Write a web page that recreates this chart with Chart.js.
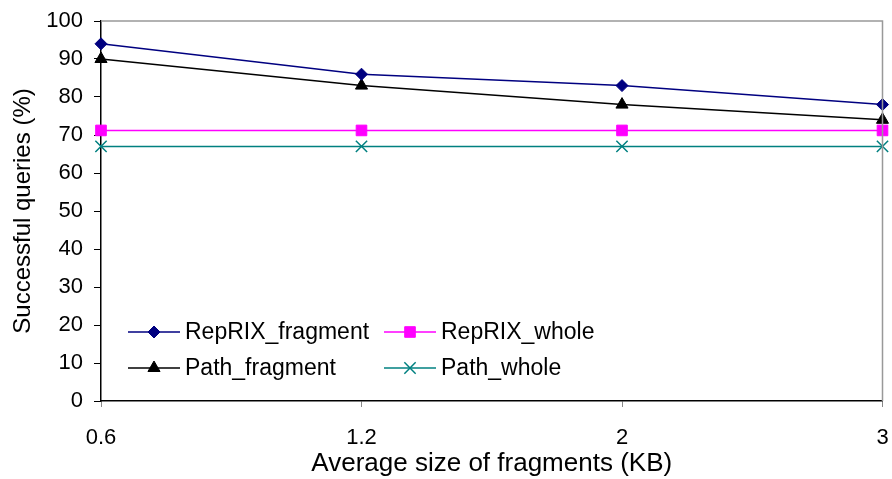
<!DOCTYPE html>
<html>
<head>
<meta charset="utf-8">
<script src="https://cdn.jsdelivr.net/npm/chart.js@4/dist/chart.umd.min.js"></script>
<style>
  html, body { margin: 0; padding: 0; background: #fff; }
  #wrap { width: 892px; height: 479px; }
</style>
</head>
<body>
<div id="wrap"><canvas id="c" width="892" height="479"></canvas></div>
<script>
// Average fragment size (KB) along the x axis
const categories = ['0.6', '1.2', '2', '3'];

// Share of successful queries (%) per method
const reprixFragment = [94, 86, 83, 78];
const reprixWhole    = [71.2, 71.2, 71.2, 71.2];
const pathFragment   = [90, 83, 78, 74];
const pathWhole      = [67, 67, 67, 67];

const yTicks = [0, 10, 20, 30, 40, 50, 60, 70, 80, 90, 100];

const FONT = "'Liberation Sans', Arial, sans-serif";

// Draws the gray top/right frame and the in-plot two-column legend
const framePlugin = {
  id: 'frame',
  afterDatasetsDraw(chart) {
    const { ctx, chartArea: a } = chart;
    ctx.save();
    ctx.strokeStyle = '#999999';
    ctx.lineWidth = 1.5;
    ctx.beginPath();
    ctx.moveTo(a.left, a.top);
    ctx.lineTo(a.right, a.top);
    ctx.lineTo(a.right, a.bottom);
    ctx.stroke();

    // legend layout: [dataset index, column, row]
    const slots = [[0, 0, 0], [1, 1, 0], [2, 0, 1], [3, 1, 1]];
    const colX = [128, 384];
    const rowY = [332, 368];
    ctx.font = '23px ' + FONT;
    ctx.textBaseline = 'middle';
    ctx.textAlign = 'left';
    slots.forEach(([i, c, r]) => {
      const ds = chart.data.datasets[i];
      const x0 = colX[c], y = rowY[r];
      ctx.strokeStyle = ds.borderColor;
      ctx.lineWidth = 1.5;
      ctx.beginPath();
      ctx.moveTo(x0, y);
      ctx.lineTo(x0 + 52, y);
      ctx.stroke();
      ctx.fillStyle = ds.pointBackgroundColor;
      ctx.strokeStyle = ds.pointBorderColor;
      ctx.lineWidth = ds.pointBorderWidth;
      Chart.helpers.drawPoint(ctx, {
        pointStyle: ds.pointStyle,
        radius: ds.pointRadius,
        borderWidth: ds.pointBorderWidth,
        rotation: 0
      }, x0 + 26, y);
      ctx.fillStyle = '#000';
      ctx.fillText(ds.label, x0 + 57, y + 1);
    });
    ctx.restore();
  }
};

function series(label, data, color, style, radius, bw) {
  return {
    label, data,
    borderColor: color,
    backgroundColor: color,
    pointBackgroundColor: color,
    pointBorderColor: color,
    borderWidth: 1.5,
    pointStyle: style,
    pointRadius: radius,
    pointHoverRadius: radius,
    pointBorderWidth: bw,
    tension: 0,
    clip: false
  };
}

new Chart(document.getElementById('c'), {
  type: 'line',
  data: {
    labels: categories,
    datasets: [
      series('RepRIX_fragment', reprixFragment, '#000080', 'rectRot', 6, 1),
      series('RepRIX_whole', reprixWhole, '#FF00FF', 'rect', 7.5, 1),
      series('Path_fragment', pathFragment, '#000000', 'triangle', 7, 1),
      series('Path_whole', pathWhole, '#008080', 'crossRot', 8, 1.5)
    ]
  },
  options: {
    responsive: false,
    animation: false,
    events: [],
    layout: { padding: { top: 21, right: 4, bottom: 0, left: 0 } },
    plugins: {
      legend: { display: false },
      tooltip: { enabled: false }
    },
    scales: {
      x: {
        offset: false,
        grid: {
          drawOnChartArea: false,
          drawTicks: true,
          tickLength: 6,
          color: '#888888',
          lineWidth: 1
        },
        border: { color: '#000000', width: 1.5 },
        ticks: {
          color: '#000',
          font: { family: FONT, size: 22 },
          padding: 18,
          maxRotation: 0,
          autoSkip: false
        },
        title: {
          display: true,
          text: 'Average size of fragments (KB)',
          color: '#000',
          font: { family: FONT, size: 26 },
          padding: { top: 0, bottom: 0 }
        },
        afterFit(s) {
          s.height = 78;
          s.paddingLeft = 0;
          s.paddingRight = 0;
        }
      },
      y: {
        min: 0,
        max: 100,
        afterBuildTicks(s) { s.ticks = yTicks.map(v => ({ value: v })); },
        grid: {
          drawOnChartArea: false,
          drawTicks: true,
          tickLength: 7,
          color: '#000000',
          lineWidth: 1
        },
        border: { color: '#000000', width: 1.5 },
        ticks: {
          color: '#000',
          font: { family: FONT, size: 22 },
          padding: 11
        },
        title: {
          display: true,
          text: 'Successful queries (%)',
          color: '#000',
          font: { family: FONT, size: 24 },
          padding: { top: 9, bottom: 0 }
        },
        afterFit(s) {
          s.width = 101;
          s.paddingTop = 0;
          s.paddingBottom = 0;
        }
      }
    }
  },
  plugins: [framePlugin]
});
</script>
</body>
</html>
